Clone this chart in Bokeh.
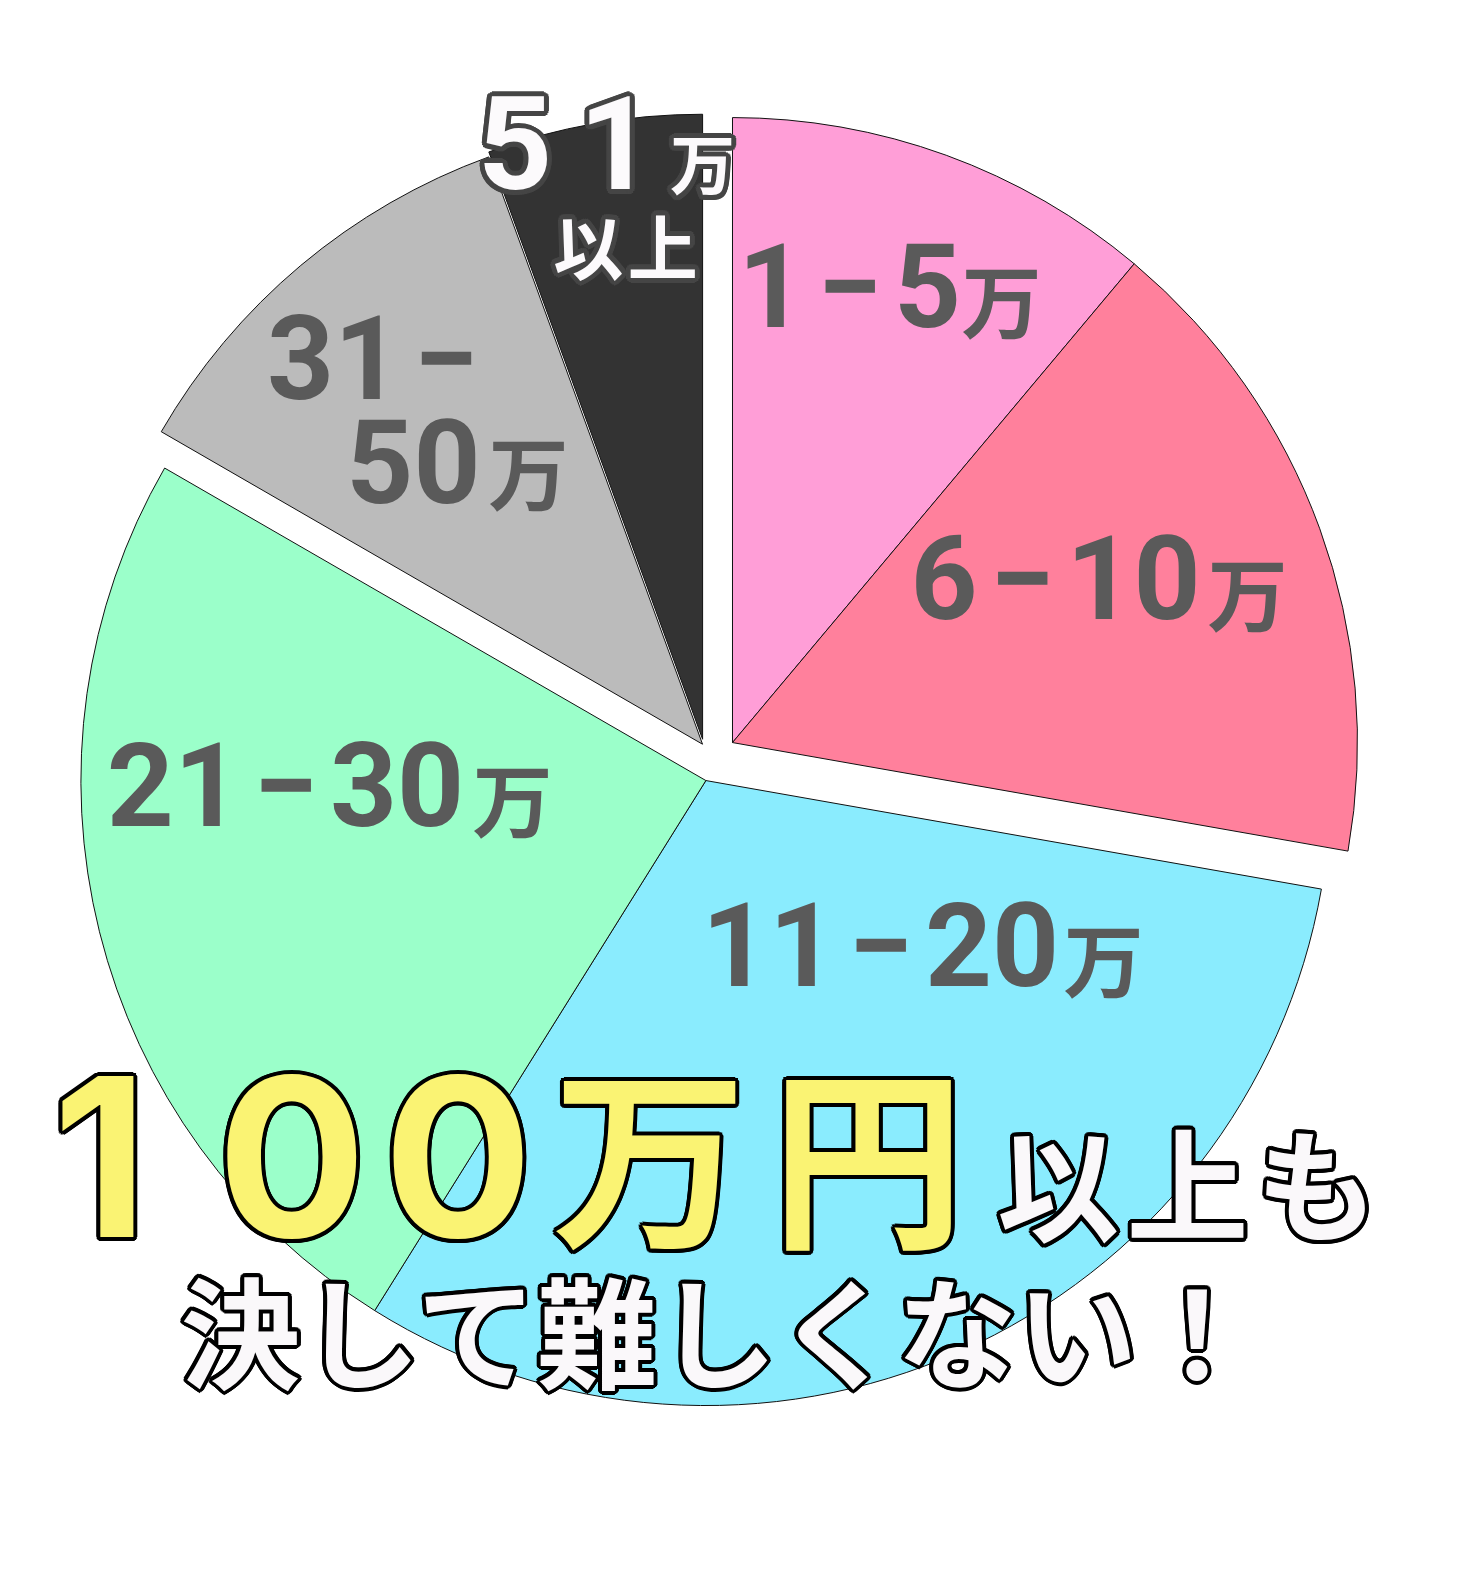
import math
from bokeh.plotting import figure
from bokeh.models import Range1d, ColumnDataSource
from bokeh.core.properties import value
from bokeh.embed import file_html
from bokeh.resources import INLINE

# ---------------- data ----------------
categories = ["1-5万", "6-10万", "11-20万", "21-30万", "31-50万", "51万以上"]
counts = [10, 15, 28, 22, 10, 5]
slice_colors = ["#FF9ED7", "#FF809C", "#8AECFE", "#9BFFCA", "#BBBBBB", "#333333"]

# ---------------- style ----------------
W, H = 1458, 1555
R = 625
CX, CY = 713.6, 797.5            # pie centre (data units == px)
explode_dist = [24, 24, 24, 24, 18, 22]
explode_dir = [50, 50, 200, 200, 320, 328.5]   # degrees clockwise from top

HS = "\u200a"   # hair space
DASH = HS + "−" + HS
DIG = "Roboto"
BIG = "Inter"
CJK = "Noto Sans CJK JP"
LABEL_COL = "#5A5A5A"
K = {DIG: 0.374, BIG: 0.37, CJK: 0.05}   # renderer baseline shift (fraction of size)

p = figure(width=W, height=H, x_range=Range1d(0, W), y_range=Range1d(0, H),
           output_backend="svg", toolbar_location=None, min_border=0,
           x_axis_location=None, y_axis_location=None)
p.grid.visible = False
p.outline_line_color = None
p.background_fill_color = "white"
p.border_fill_color = "white"

total = sum(counts)
xs, ys, starts, ends = [], [], [], []
acc = 0.0
for c, d, a in zip(counts, explode_dist, explode_dir):
    t0 = acc / total * 360.0
    acc += c
    t1 = acc / total * 360.0
    xs.append(CX + d * math.sin(math.radians(a)))
    ys.append(CY + d * math.cos(math.radians(a)))
    starts.append(math.radians(90 - t1))
    ends.append(math.radians(90 - t0))

src = ColumnDataSource(dict(x=xs, y=ys, start=starts, end=ends, color=slice_colors, cat=categories))
p.wedge(x="x", y="y", radius=R, start_angle="start", end_angle="end",
        fill_color="color", line_color="#111111", line_width=1, source=src)


def text(x, y, s, size, font, color, stroke=None, sw=0, n=16):
    common = dict(text_font=value(font), text_font_size=value(f"{size}px"),
                  text_font_style="bold", text_align="center", text_baseline="alphabetic")
    if stroke is not None:
        xo = [sw * math.cos(2 * math.pi * i / n) for i in range(n)]
        yo = [sw * math.sin(2 * math.pi * i / n) for i in range(n)]
        s2 = ColumnDataSource(dict(x=[x] * n, y=[y] * n, t=[s] * n, xo=xo, yo=yo))
        p.text(x="x", y="y", text="t", x_offset="xo", y_offset="yo", source=s2,
               text_color=stroke, **common)
    p.text(x=[x], y=[y], text=[s], text_color=color, **common)


def digits(cx, base, s, size, color=LABEL_COL, font=DIG, **kw):
    """digits centred at cx, sitting on page baseline `base`"""
    text(cx, H - base + K[font] * size, s, size, font, color, **kw)


def kanji(cx, cy, s, size, color=LABEL_COL, **kw):
    """CJK text centred on page point (cx, cy)"""
    text(cx, H - cy + K[CJK] * size, s, size, CJK, color, **kw)


def sp(*chars):
    return HS.join(chars)


# ---------------- slice labels ----------------
digits(849, 330, "1" + DASH + "5", 117)
kanji(1001, 300, "万", 80)

digits(1055, 622, "6" + DASH + "10", 117)
kanji(1247, 593, "万", 80)

digits(880, 989, "11" + DASH + "20", 117)
kanji(1103, 959, "万", 80)

digits(285, 829, "21" + DASH + "30", 117)
kanji(512, 799, "万", 80)

digits(372, 402, "31" + HS + "−", 117)
digits(413, 504, "50", 117)
kanji(528, 472, "万", 80)

WHITE2 = "#FCFAFC"
digits(565, 193, "5" + HS + HS + "1", 130, WHITE2, stroke="#454545", sw=5)
kanji(702, 164, "万", 65, WHITE2, stroke="#454545", sw=5)
kanji(625, 247, sp("以", "上"), 70, WHITE2, stroke="#454545", sw=5)

# ---------------- headline ----------------
YEL = "#FAF373"
WHT = "#FAF8FA"
digits(292, 1238, "1" + HS * 4 + "0" + HS + "0", 221, YEL, font=BIG, stroke="black", sw=4)
kanji(758, 1158, "万" + HS + HS + "円", 194, YEL, stroke="black", sw=4)
kanji(1187, 1184, sp("以", "上", "も"), 122, WHT, stroke="black", sw=4)
kanji(720, 1333, "決して難しくない！", 120, WHT, stroke="black", sw=4)

open("out.html", "w").write(file_html(p, INLINE))
